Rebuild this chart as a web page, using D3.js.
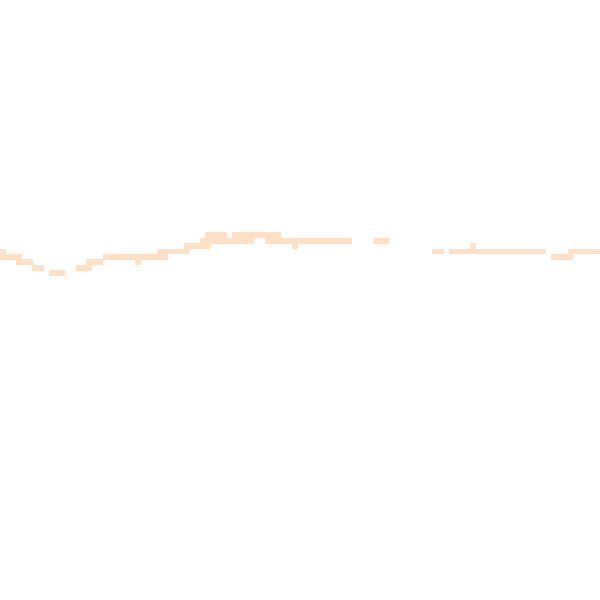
<!doctype html>
<html>
  <head>
    <meta charset="utf-8">
    <title>Faint line</title>
    <script src="https://cdnjs.cloudflare.com/ajax/libs/d3/7.8.5/d3.min.js"></script>
    <style>
      html, body {
        margin: 0;
        padding: 0;
        background: #fff;
      }
      svg {
        display: block;
      }
    </style>
  </head>

  <body>
    <div id="chart"></div>

    <script>
      // Step 1: column categories (the picture is a coarse 111 x 111 grid)
      const columns = d3.range(111);
      const rows = d3.range(111);

      // Step 2: filled row levels for each column
      const levels = [
        [46, 47], [47], [47], [47, 48], [48], [48], [49], [49], [], [50],
        [50], [50], [], [], [49], [49], [48, 49], [48], [48], [47],
        [47], [47], [47], [47], [47], [47, 48], [47], [47], [47], [46, 47],
        [46, 47], [46], [46], [46], [45, 46], [45], [45], [44, 45], [43, 44, 45], [43, 44],
        [43, 44], [43, 44], [44], [43, 44], [43, 44], [43, 44], [43, 44], [43], [43], [43, 44],
        [43, 44], [43, 44], [44], [44], [44, 45], [44], [44], [44], [44], [44],
        [44], [44], [44], [44], [44], [], [], [], [], [44],
        [44], [44], [], [], [], [], [], [], [], [],
        [46], [46], [], [46], [46], [46], [46], [45, 46], [46], [46],
        [46], [46], [46], [46], [46], [46], [46], [46], [46], [46],
        [46], [], [47], [47], [47], [46, 47], [46], [46], [46], [46],
        [46]
      ];

      // Step 3: flatten into one cell per filled level
      const cells = levels.flatMap((lv, i) => lv.map(r => ({ col: columns[i], row: r })));

      const width = 600;
      const height = 600;

      const x = d3.scaleBand()
        .domain(columns)
        .range([0, width]);

      const y = d3.scaleBand()
        .domain(rows)
        .range([0, height]);

      const svg = d3.select('#chart')
        .append('svg')
        .attr('width', width)
        .attr('height', height);

      svg.append('g')
        .selectAll('rect')
        .data(cells)
        .join('rect')
        .attr('x', d => x(d.col))
        .attr('y', d => y(d.row))
        .attr('width', x.bandwidth() + 0.3)
        .attr('height', y.bandwidth() + 0.3)
        .attr('fill', '#ffe0c6')
        .attr('shape-rendering', 'crispEdges');
    </script>
  </body>
</html>
